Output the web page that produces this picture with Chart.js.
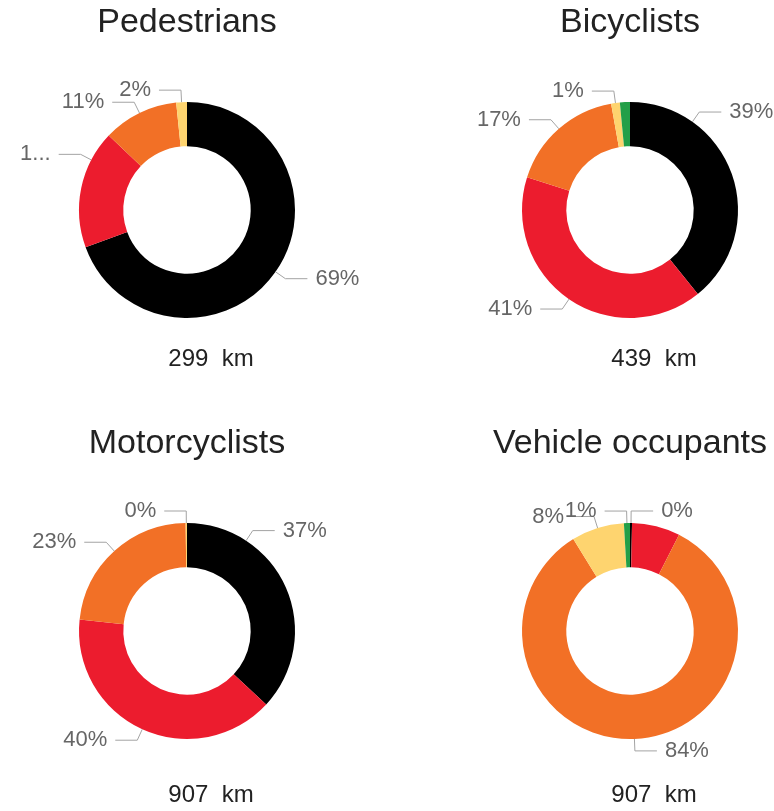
<!DOCTYPE html>
<html>
<head>
<meta charset="utf-8">
<script src="https://cdn.jsdelivr.net/npm/chart.js@4"></script>
<style>
  html, body { margin: 0; padding: 0; background: #fff; overflow: hidden; }
  body { width: 774px; height: 811px; position: relative; }
  canvas { position: absolute; }
</style>
</head>
<body>
<canvas id="c0" width="350" height="390" style="left:12px;top:0"></canvas>
<canvas id="c1" width="350" height="390" style="left:455px;top:0"></canvas>
<canvas id="c2" width="350" height="390" style="left:12px;top:421px"></canvas>
<canvas id="c3" width="350" height="390" style="left:455px;top:421px"></canvas>
<script>
const categories = ['Black', 'Red', 'Orange', 'Yellow', 'Green'];
const titles = ['Pedestrians', 'Bicyclists', 'Motorcyclists', 'Vehicle occupants'];
const distances = [299, 439, 907, 907];
const pedestrians = [69.4, 17.7, 11.3, 1.6, 0];
const bicyclists = [39.2, 40.7, 17.3, 1.3, 1.5];
const motorcyclists = [36.9, 39.8, 23.1, 0.2, 0];
const vehicleOccupants = [0.3, 7.2, 83.7, 7.9, 0.9];

const couleurs = ['#000000', '#ec1c2e', '#f27026', '#fed46f', '#239f48'];
const police = '"Liberation Sans", Arial, sans-serif';
Chart.defaults.font.family = police;

// labels outside the ring, with a leader line (like the Google pie legend)
const etiquettes = {
    id: 'etiquettes',
    afterDraw(chart, args, opts) {
        const ctx = chart.ctx;
        const data = chart.data.datasets[0].data;
        const total = data.reduce((a, b) => a + b, 0);
        const W = chart.width;
        const arcs = chart.getDatasetMeta(0).data;
        const placed = [];
        ctx.save();
        ctx.font = '22px ' + police;
        ctx.textBaseline = 'middle';
        ctx.lineWidth = 1;
        arcs.forEach((arc, i) => {
            if (!data[i]) return;
            const p = arc.getProps(['x', 'y', 'startAngle', 'endAngle', 'outerRadius'], true);
            const base = Math.round(data[i] / total * 100) + '%';
            let text = base;
            const pos = a => {
                const c = Math.cos(a), s = Math.sin(a);
                const dir = c >= 0 ? 1 : -1;
                const ex = p.x + (p.outerRadius + 12) * c;
                const ey = p.y + (p.outerRadius + 12) * s;
                return { a, dir, ax: p.x + p.outerRadius * c, ay: p.y + p.outerRadius * s,
                         ex, ey, lx: ex + 22 * dir, tx: ex + 30 * dir };
            };
            const place = q => q.dir > 0 ? W - q.tx : q.tx;
            const span = p.endAngle - p.startAngle;
            let q = pos(p.startAngle + span / 2);
            if (ctx.measureText(text).width > place(q)) {
                const q1 = pos(p.startAngle + span / 4);
                const q3 = pos(p.startAngle + span * 3 / 4);
                const haut = Math.sin(q.a) < 0;
                q = (haut ? q1.ey < q3.ey : q1.ey > q3.ey) ? q1 : q3;
                for (let n = base.length - 1; n > 0 && ctx.measureText(text).width > place(q); n--) {
                    text = base.slice(0, n) + '...';
                }
            }
            const w = ctx.measureText(text).width;
            const x0 = q.dir > 0 ? q.tx : q.tx - w;
            const box = { x0, x1: x0 + w, y0: q.ey - 9, y1: q.ey + 9 };
            if (placed.some(b => b.x0 < box.x1 && box.x0 < b.x1 && b.y0 < box.y1 && box.y0 < b.y1)) return;
            placed.push(box);
            ctx.strokeStyle = '#a3a3a3';
            ctx.beginPath();
            ctx.moveTo(q.ax, q.ay);
            ctx.lineTo(q.ex, q.ey);
            ctx.lineTo(q.lx, q.ey);
            ctx.stroke();
            ctx.fillStyle = '#666666';
            ctx.textAlign = q.dir > 0 ? 'left' : 'right';
            ctx.fillText(text, q.tx, q.ey);
        });
        // distance under the ring
        const c = arcs[0].getProps(['x', 'y'], true);
        ctx.font = '24px ' + police;
        ctx.fillStyle = '#222222';
        ctx.textAlign = 'center';
        ctx.fillText(opts.caption, c.x + 24, c.y + opts.dy);
        ctx.restore();
    }
};

function anneau(id, titre, valeurs, km, dy) {
    new Chart(document.getElementById(id), {
        type: 'doughnut',
        data: {
            labels: categories,
            datasets: [{ data: valeurs, backgroundColor: couleurs, borderWidth: 0 }]
        },
        options: {
            responsive: false,
            animation: false,
            events: [],
            radius: 108,
            cutout: '59%',
            layout: { padding: { bottom: 12.8 } },
            plugins: {
                legend: { display: false },
                tooltip: { enabled: false },
                title: {
                    display: true,
                    text: titre,
                    color: '#222222',
                    font: { size: 34, weight: 'normal' },
                    padding: { top: 2, bottom: 0 }
                },
                etiquettes: { caption: km + '  km', dy: dy }
            }
        },
        plugins: [etiquettes]
    });
}

anneau('c0', titles[0], pedestrians, distances[0], 149);
anneau('c1', titles[1], bicyclists, distances[1], 149);
anneau('c2', titles[2], motorcyclists, distances[2], 164);
anneau('c3', titles[3], vehicleOccupants, distances[3], 164);
</script>
</body>
</html>
